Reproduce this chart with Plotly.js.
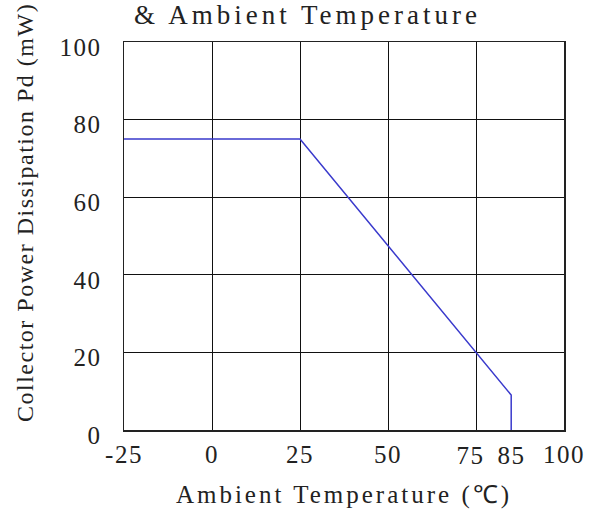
<!DOCTYPE html>
<html>
<head>
<meta charset="utf-8">
<script src="https://cdn.plot.ly/plotly-3.0.1.min.js"></script>
<style>
html,body{margin:0;padding:0;background:#fff;}
#chart{width:595px;height:515px;}
.main-svg text{letter-spacing:1.5px;}
.main-svg .xtitle{letter-spacing:3px;}
.main-svg .annotation[data-index="1"] text{letter-spacing:4px;}
</style>
</head>
<body>
<div id="chart"></div>
<script>
// Data
const tempC = [-25, 25, 85, 85];
const powerMW = [75, 75, 9, 0];
const xTickVals = [-25, 0, 25, 50, 75, 100];
const xTickText = ['-25', '0', '25', '50', '', '100'];
const xCloseTickVals = [75, 85];
const xCloseTickText = ['75', '85'];
const xCloseTickShift = [-6, 0];
const yTickVals = [0, 20, 40, 60, 80, 100];
const yTickText = ['0', '20', '40', '60', '80', '100'];
const titleText = '& Ambient Temperature';
const xTitleText = 'Ambient Temperature (℃)';
const yTitleText = 'Collector Power Dissipation Pd (mW)';

const serif = 'Liberation Serif, Times New Roman, serif';
const ink = '#222';

const trace = {
  x: tempC,
  y: powerMW,
  type: 'scatter',
  mode: 'lines',
  line: {color: '#3a3acc', width: 1.5},
  hoverinfo: 'skip',
  showlegend: false
};

const annotations = [
  {
    text: yTitleText,
    xref: 'paper', yref: 'paper',
    x: -0.225, y: 0.56,
    xanchor: 'center', yanchor: 'middle',
    textangle: -90,
    showarrow: false,
    font: {family: serif, size: 24, color: ink}
  },
  {
    text: titleText,
    xref: 'paper', yref: 'paper',
    x: 0.416, y: 1.07,
    xanchor: 'center', yanchor: 'middle',
    showarrow: false,
    font: {family: serif, size: 27, color: ink}
  }
];
xCloseTickVals.forEach(function (v, i) {
  annotations.push({
    text: xCloseTickText[i],
    xref: 'x', yref: 'paper',
    x: v, y: -0.067,
    xanchor: 'center', yanchor: 'middle',
    xshift: xCloseTickShift[i],
    showarrow: false,
    font: {family: serif, size: 25, color: ink}
  });
});

const layout = {
  width: 595,
  height: 515,
  margin: {l: 124, r: 31, t: 42, b: 85},
  paper_bgcolor: '#ffffff',
  plot_bgcolor: '#ffffff',
  font: {family: serif, color: ink, size: 25},
  xaxis: {
    range: [-25, 100],
    tickmode: 'array',
    tickvals: xTickVals,
    ticktext: xTickText,
    showgrid: true,
    gridcolor: '#111',
    gridwidth: 1,
    showline: true,
    linecolor: ink,
    linewidth: 1.5,
    mirror: true,
    zeroline: false,
    ticks: '',
    ticklabelstandoff: 1,
    tickfont: {family: serif, size: 25, color: ink},
    title: {text: xTitleText, font: {family: serif, size: 25, color: ink}, standoff: 19}
  },
  yaxis: {
    range: [0, 100],
    tickmode: 'array',
    tickvals: yTickVals,
    ticktext: yTickText,
    showgrid: true,
    gridcolor: '#111',
    gridwidth: 1,
    showline: true,
    linecolor: ink,
    linewidth: 1.5,
    mirror: true,
    zeroline: false,
    ticks: '',
    ticklabelstandoff: 16,
    ticklabelshift: 5,
    tickfont: {family: serif, size: 25, color: ink}
  },
  annotations: annotations
};

Plotly.newPlot('chart', [trace], layout, {staticPlot: true, displayModeBar: false});
</script>
</body>
</html>
